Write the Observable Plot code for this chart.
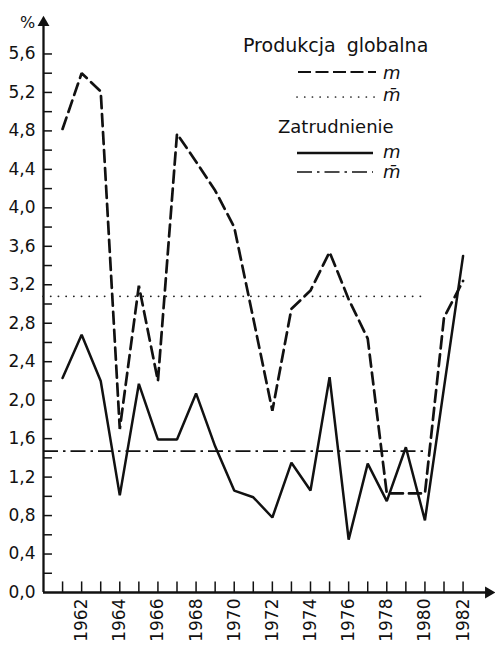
<!DOCTYPE html>
<html>
<head>
<meta charset="utf-8">
<script src="https://cdn.jsdelivr.net/npm/d3@7"></script>
<script src="https://cdn.jsdelivr.net/npm/@observablehq/plot@0.6"></script>
<style>
  body { margin: 0; background: #fff; }
  #wrap { position: relative; width: 495px; height: 645px; }
  #legend { position: absolute; left: 0; top: 0; pointer-events: none; }
</style>
</head>
<body>
<div id="wrap"></div>
<script>
// ---- data ----
const years = [1961,1962,1963,1964,1965,1966,1967,1968,1969,1970,1971,1972,1973,1974,1975,1976,1977,1978,1979,1980,1981,1982];
const produkcja = [4.82,5.40,5.21,1.70,3.19,2.20,4.77,4.48,4.18,3.80,2.85,1.89,2.95,3.14,3.54,3.05,2.64,1.03,1.03,1.03,2.86,3.24];
const zatrudnienie = [2.23,2.68,2.20,1.01,2.17,1.59,1.59,2.07,1.52,1.06,0.99,0.78,1.35,1.06,2.24,0.55,1.34,0.95,1.51,0.75,2.13,3.50];
const produkcjaMean = 3.08;
const zatrudnienieMean = 1.47;
const meanSpan = [1960, 1980];

// ---- ticks / labels ----
const yLabels = [0.0,0.4,0.8,1.2,1.6,2.0,2.4,2.8,3.2,3.6,4.0,4.4,4.8,5.2,5.6];
const yTicks = [0.2,0.4,0.6,0.8,1.0,1.2,1.4,1.6,1.8,2.0,2.2,2.4,2.6,2.8,3.0,3.2,3.4,3.6,3.8,4.0,4.2,4.4,4.6,4.8,5.0,5.2,5.4,5.6];
const xLabels = [1962,1964,1966,1968,1970,1972,1974,1976,1978,1980,1982];
const xDomain = [1960, 1983.7];
const yDomain = [0, 6];

const prodData = years.map((year, i) => ({year, v: produkcja[i]}));
const empData = years.map((year, i) => ({year, v: zatrudnienie[i]}));

const chart = Plot.plot({
  width: 495,
  height: 645,
  marginLeft: 43,
  marginRight: 0,
  marginTop: 15,
  marginBottom: 53,
  style: {fontFamily: "DejaVu Sans", fontSize: "17px", background: "#fff", color: "#111"},
  x: {domain: xDomain, label: null},
  y: {domain: yDomain, label: null},
  marks: [
    // minor/major ticks pointing inward
    Plot.ruleY(yTicks, {x1: xDomain[0], x2: xDomain[0] + 0.47, stroke: "#111", strokeWidth: 1.5}),
    Plot.ruleX(years, {y1: yDomain[0], y2: 0.11, stroke: "#111", strokeWidth: 1.5}),
    // axis lines
    Plot.ruleX([xDomain[0]], {y1: yDomain[0], y2: yDomain[1] - 0.1, stroke: "#111", strokeWidth: 2.3}),
    Plot.ruleY([yDomain[0]], {x1: xDomain[0], x2: xDomain[1] - 0.4, stroke: "#111", strokeWidth: 2.3}),
    Plot.dot([{x: xDomain[0], y: yDomain[1]}], {x: "x", y: "y", symbol: "triangle", r: 4.4, fill: "#111", stroke: null, dy: 7}),
    Plot.dot([{x: xDomain[1], y: yDomain[0]}], {x: "x", y: "y", symbol: "triangle", r: 4.4, fill: "#111", stroke: null, dx: -7, rotate: 90}),
    // means
    Plot.ruleY([produkcjaMean], {x1: meanSpan[0], x2: meanSpan[1], stroke: "#222", strokeWidth: 1.8, strokeDasharray: "0.1,7.6", strokeLinecap: "round"}),
    Plot.ruleY([zatrudnienieMean], {x1: meanSpan[0], x2: meanSpan[1], stroke: "#111", strokeWidth: 1.6, strokeDasharray: "15,5,2.5,5"}),
    // series
    Plot.line(prodData, {x: "year", y: "v", stroke: "#111", strokeWidth: 2.7, strokeDasharray: "12,6", strokeLinejoin: "miter"}),
    Plot.line(empData, {x: "year", y: "v", stroke: "#111", strokeWidth: 2.5, strokeLinejoin: "miter"}),
    // axes labels
    Plot.axisY({ticks: yLabels, tickSize: 0, tickPadding: 8, tickFormat: d => d.toFixed(1).replace(".", ","), fontSize: 17, label: null}),
    Plot.axisX({ticks: xLabels, tickSize: 0, tickPadding: 6, tickRotate: -90, tickFormat: d => String(d), fontSize: 17, label: null})
  ]
});

const wrap = document.getElementById("wrap");
wrap.appendChild(chart);

// legend overlay
const legend = `
<svg id="legend" width="495" height="200" font-family="DejaVu Sans" fill="#111">
  <text x="20" y="28" font-size="16">%</text>
  <text x="243" y="52" font-size="19" word-spacing="5">Produkcja globalna</text>
  <line x1="298" x2="376" y1="72" y2="72" stroke="#111" stroke-width="2.2" stroke-dasharray="13,4.5"/>
  <text x="383" y="79" font-size="18" font-style="italic">m</text>
  <line x1="297" x2="376" y1="97" y2="97" stroke="#222" stroke-width="1.7" stroke-dasharray="0.1,7.6" stroke-linecap="round"/>
  <text x="383" y="101" font-size="18" font-style="italic">m\u0304</text>
  <text x="278" y="133" font-size="18">Zatrudnienie</text>
  <line x1="297" x2="373" y1="153" y2="153" stroke="#111" stroke-width="2.4"/>
  <text x="383" y="158" font-size="18" font-style="italic">m</text>
  <line x1="297" x2="373" y1="172" y2="172" stroke="#111" stroke-width="1.6" stroke-dasharray="15,5,2.5,5"/>
  <text x="383" y="178" font-size="18" font-style="italic">m\u0304</text>
</svg>`;
wrap.insertAdjacentHTML("beforeend", legend);
</script>
</body>
</html>
